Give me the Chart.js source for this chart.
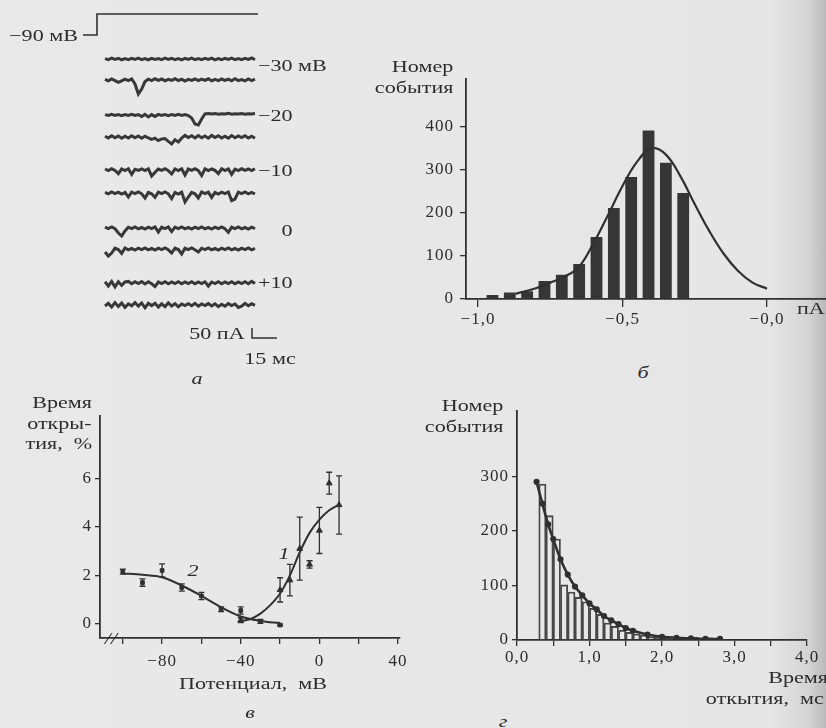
<!DOCTYPE html>
<html lang="ru">
<head>
<meta charset="utf-8">
<title>Одиночные каналы</title>
<script src="https://cdn.jsdelivr.net/npm/chart.js@4.4.1/dist/chart.umd.min.js"></script>
<style>
  html, body { margin: 0; padding: 0; }
  #page {
    position: relative; width: 826px; height: 728px; overflow: hidden;
    background: linear-gradient(to right, #e9e9e9 0px, #e6e6e6 770px, #d4d4d4 808px, #bababa 826px);
    font-family: "Liberation Serif", "DejaVu Serif", serif; color: #2c2c2c;
  }
  #page canvas { position: absolute; }
  .lbl { position: absolute; white-space: pre; font-size: 17px; line-height: 1; }
  .it { font-style: italic; }
</style>
</head>
<body>
<div id="page">
  <canvas id="chartA"></canvas>
  <canvas id="chartB"></canvas>
  <canvas id="chartV"></canvas>
  <canvas id="chartG"></canvas>
</div>
<script>
// ---------- а: single channel current traces (pA around each baseline, 2 ms per sample)
const sampleMs = 2;
const traceM30a = [2,-3,4,-2,3,-4,2,-3,3,-2, 4,-3,2,-4,3,-2,2,-3,4,-2, 3,-3,2,-4,3,-2,4,-3,2,-3, 3,-2,4,-4,2,-3,3,-2,4,-3, 2,-3,3,-2,5,-3];
const traceM30b = [3,-4,5,-3,-12,-4,4,-3,5,-20, -70,-45,-8,4,-3,6,-2,5,-4,3, -2,6,-3,4,-5,3,-2,5,-3,4, -2,6,-4,3,-3,5,-2,4,-4,6, -3,2,-4,5,-3,4];
const traceM20a = [2,-2,3,-2,2,-3,2,-2,3,-2, 2,-8,3,-10,2,-8,3,-2,2,-3, 2,-2,3,-2,2,-3,-15,-45,-50,-20, 6,8,5,7,4,6,5,8,4,6, 5,7,4,6,5,7];
const traceM20b = [4,-5,6,-4,5,-6,4,-5,6,-4, 5,-6,4,-5,-12,-6,-18,-10,-8,-22, -35,-14,-25,-6,8,-3,6,-5,7,-4, 5,-6,8,-3,6,-5,4,-6,7,-4, 5,-3,6,-5,4,-6];
const traceM10a = [5,-3,6,-2,-18,5,-3,6,-22,4, -2,5,-3,6,-30,-12,5,-2,6,-3, -20,5,-3,6,-25,5,-2,6,-3,-28, 6,-3,5,-2,-18,6,-3,5,-22,4, -3,6,-2,5,-3,6];
const traceM10b = [3,-4,5,-3,4,-5,3,-20,4,-3, 5,-4,-25,3,-4,-22,4,-3,5,-4, -28,3,-5,4,-45,-20,3,-4,-25,5, -3,4,-22,3,-5,4,-3,5,-38,-30, 4,-3,5,-4,3,-5];
const trace0a   = [4,-3,5,-3,-25,-40,-15,4,-3,5, -4,3,-5,4,-3,5,-20,4,-3,5, -18,4,-3,5,-4,3,-5,4,-3,5, -4,3,-5,4,-3,5,-4,-22,4,-3, 5,-4,3,-5,4,-3];
const trace0b   = [-15,-35,-20,4,-3,-22,5,-4,3,-5, 4,-3,5,-4,3,-5,4,-3,5,-4, -20,4,-3,-25,4,-3,5,-4,-15,4, -3,5,-4,3,-5,4,-3,5,-4,3, -5,4,-3,5,-4,3];
const traceP10a = [6,-15,8,-20,6,-12,5,8,-4,6, -3,7,-5,6,-4,-18,5,-3,6,-4, 5,-3,6,-4,5,-3,6,-4,5,-3, 6,-15,5,-3,6,-4,5,-3,6,-4, 5,-3,6,-4,8,-3];
const traceP10b = [-5,8,-10,12,-8,10,-12,6,-4,12, -6,10,-14,8,-3,9,-10,6,-8,11, -5,7,-9,5,-3,6,-4,8,-6,5, -3,7,-5,6,-8,4,-6,7,-3,5, -12,-6,8,-4,6,-2];
const tracesA = [traceM30a, traceM30b, traceM20a, traceM20b, traceM10a, traceM10b, trace0a, trace0b, traceP10a, traceP10b];
const traceLabels = ['−30 мВ', '−20', '−10', '0', '+10'];
const protocolMs = [-8.4, 0, 0, 96.6];      // relative to the step
const protocolMv = [-90, -90, -30, -30];
const scaleBarPA = 50;
const scaleBarMs = 15;

// ---------- б: amplitude histogram
const ampBins   = [-0.95, -0.89, -0.83, -0.77, -0.71, -0.65, -0.59, -0.53, -0.47, -0.41, -0.35, -0.29];
const ampCounts = [9, 15, 18, 42, 56, 81, 144, 211, 283, 391, 316, 246];
const ampFitX = [-0.87, -0.80, -0.75, -0.70, -0.65, -0.60, -0.55, -0.50, -0.45, -0.40, -0.35, -0.30, -0.25, -0.20, -0.15, -0.10, -0.05, 0.0];
const ampFitY = [12, 25, 38, 52, 75, 130, 195, 262, 318, 350, 335, 285, 220, 158, 105, 65, 38, 24];
const ampTicks = [-1, -0.5, 0];
const ampTickLabels = ['−1,0', '−0,5', '−0,0'];
const countTicksB = [0, 100, 200, 300, 400];

// ---------- в: open time vs potential
const potTicks = [-100, -80, -60, -40, -20, 0, 20, 40];
const potTickLabels = ['', '−80', '', '−40', '', '0', '', '40'];
const openTicks = [0, 2, 4, 6];
const fit2Mv  = [-100, -90, -80, -70, -60, -50, -40, -30, -20];
const fit2Pct = [2.08, 2.02, 1.92, 1.58, 1.15, 0.68, 0.3, 0.12, 0.03];
const fit1Mv  = [-40, -35, -30, -25, -20, -15, -10, -5, 0, 5, 10];
const fit1Pct = [0.12, 0.2, 0.42, 0.77, 1.25, 2.0, 2.95, 3.75, 4.3, 4.68, 4.92];
const pts2Mv  = [-100, -90, -80, -70, -60, -50, -40, -30, -20];
const pts2Pct = [2.15, 1.7, 2.2, 1.5, 1.15, 0.6, 0.55, 0.1, -0.05];
const pts2Err = [0.1, 0.15, 0.27, 0.15, 0.15, 0.1, 0.15, 0.08, 0.04];
const pts1Mv  = [-40, -20, -15, -10, -5, 0, 5, 10];
const pts1Pct = [0.15, 1.4, 1.8, 3.1, 2.45, 3.85, 5.8, 4.9];
const pts1Err = [0.1, 0.5, 0.65, 1.3, 0.15, 0.95, 0.45, 1.2];

// ---------- г: open time histogram
const durBins   = [0.35, 0.45, 0.55, 0.65, 0.75, 0.85, 0.95, 1.05, 1.15, 1.25, 1.35, 1.45, 1.55, 1.65, 1.75, 1.85, 1.95, 2.05, 2.15, 2.25, 2.35, 2.45, 2.55, 2.65, 2.75];
const durCounts = [286, 228, 185, 101, 88, 78, 70, 58, 47, 31, 25, 18, 14, 11, 9, 6, 5, 4, 6, 5, 4, 5, 3, 4, 2];
const durFitMs     = [0.27, 0.35, 0.43, 0.5, 0.6, 0.7, 0.8, 0.9, 1.0, 1.1, 1.2, 1.3, 1.4, 1.5, 1.6, 1.8, 2.0, 2.2, 2.4, 2.6, 2.8];
const durFitCounts = [290, 250, 212, 185, 148, 120, 98, 82, 67, 56, 44, 36, 29, 22, 17, 10, 6, 4, 3, 2, 2];
const durTicks = [0, 0.5, 1, 1.5, 2, 2.5, 3, 3.5, 4];
const durTickLabels = ['0,0', '', '1,0', '', '2,0', '', '3,0', '', '4,0'];
const countTicksG = [0, 100, 200, 300];

// ---------- shared look
const ink = '#303030';
const serif = "'Liberation Serif', 'DejaVu Serif', serif";
Chart.defaults.animation = false;
Chart.defaults.responsive = false;
Chart.defaults.devicePixelRatio = 1;
Chart.defaults.plugins.legend.display = false;
Chart.defaults.plugins.tooltip.enabled = false;

const pts = (xs, ys) => xs.map((x, i) => ({ x: x, y: ys[i] }));

// slightly spread, scan-like tick lettering
const wideText = { id: 'wideText', beforeDraw(chart) { chart.ctx.letterSpacing = '1px'; } };

// vertical error bars for datasets carrying an `errors` array
const errorBars = {
  id: 'errorBars',
  afterDatasetsDraw(chart) {
    const { ctx, scales } = chart;
    chart.data.datasets.forEach(ds => {
      if (!ds.errors) return;
      ctx.save();
      ctx.strokeStyle = ink;
      ctx.lineWidth = 1.3;
      ds.data.forEach((p, i) => {
        const px = scales.x.getPixelForValue(p.x);
        const top = scales.y.getPixelForValue(p.y + ds.errors[i]);
        const bot = scales.y.getPixelForValue(p.y - ds.errors[i]);
        ctx.beginPath();
        ctx.moveTo(px, top); ctx.lineTo(px, bot);
        ctx.moveTo(px - 3, top); ctx.lineTo(px + 3, top);
        ctx.moveTo(px - 3, bot); ctx.lineTo(px + 3, bot);
        ctx.stroke();
      });
      ctx.restore();
    });
  }
};

function axis(o) {
  return {
    type: 'linear', position: o.position, min: o.min, max: o.max, offset: false,
    afterFit: s => { if (o.position === 'left') s.width = o.size; else s.height = o.size; },
    afterBuildTicks: s => { s.ticks = o.ticks.map(v => ({ value: v })); },
    ticks: {
      autoSkip: false, maxRotation: 0, padding: o.padding, color: '#2c2c2c',
      font: { family: serif, size: 17 },
      callback: (v, i) => (o.labels ? o.labels[i] : String(v))
    },
    grid: { drawOnChartArea: false, drawTicks: true, tickLength: o.tickLength, color: ink, lineWidth: 1.3, offset: false },
    border: { display: true, color: ink, width: 1.8 }
  };
}

function place(id, left, top, width, height) {
  const c = document.getElementById(id);
  c.width = width; c.height = height;
  c.style.left = left + 'px'; c.style.top = top + 'px';
  return c;
}

// ---------- а
const pxMs = 0.6, pxPA = 5;                    // 15 ms = 25 px, 50 pA = 10 px
const traceStartMs = 63;
const traceRowsPx = [59, 80, 115, 137, 170, 193, 228, 249, 283, 305];
const stepAtMs = 58.2;
const scaleBarCorner = { ms: 151.2, pA: -1690 };
const traceSets = tracesA.map((tr, i) => ({
  data: tr.map((v, k) => ({ x: traceStartMs + k * sampleMs, y: -traceRowsPx[i] * pxPA + v })),
  borderColor: '#383838', borderWidth: 3, pointRadius: 0, tension: 0
}));
new Chart(place('chartA', 0, 0, 340, 400), {
  type: 'line',
  data: { datasets: traceSets.concat([
    { data: pts(protocolMs.map(t => t + stepAtMs), protocolMv), yAxisID: 'yV',
      borderColor: ink, borderWidth: 1.6, pointRadius: 0, tension: 0 },
    { data: [
        { x: scaleBarCorner.ms, y: scaleBarCorner.pA + scaleBarPA },
        { x: scaleBarCorner.ms, y: scaleBarCorner.pA },
        { x: scaleBarCorner.ms + scaleBarMs, y: scaleBarCorner.pA }],
      borderColor: ink, borderWidth: 1.5, pointRadius: 0, tension: 0 }
  ]) },
  options: {
    layout: { padding: 0 },
    scales: {
      x: { type: 'linear', display: false, min: 0, max: 340 * pxMs },
      y: { type: 'linear', display: false, min: -400 * pxPA, max: 0 },
      yV: { type: 'linear', display: false, min: 10 - 400 / 0.35, max: 10 }
    }
  }
});

// ---------- б
new Chart(place('chartB', 360, 63, 466, 276), {
  type: 'bar',
  data: { datasets: [
    { type: 'line', data: pts(ampFitX, ampFitY), borderColor: ink, borderWidth: 2.2,
      pointRadius: 0, tension: 0.4, order: 0 },
    { type: 'bar', data: pts(ampBins, ampCounts), backgroundColor: '#363636',
      barPercentage: 0.68, categoryPercentage: 1, order: 1 }
  ] },
  options: {
    layout: { padding: 0 },
    scales: {
      x: axis({ position: 'bottom', min: -1.0415, max: 0.204, size: 40, ticks: ampTicks,
                labels: ampTickLabels, tickLength: 8, padding: 2 }),
      y: axis({ position: 'left', min: 0, max: 510, size: 106, ticks: countTicksB,
                tickLength: 6, padding: 6 })
    }
  },
  plugins: [wideText]
});

// ---------- в
new Chart(place('chartV', 40, 403, 380, 271), {
  type: 'line',
  data: { datasets: [
    { data: pts(fit2Mv, fit2Pct), borderColor: ink, borderWidth: 2, pointRadius: 0,
      cubicInterpolationMode: 'monotone' },
    { data: pts(fit1Mv, fit1Pct), borderColor: ink, borderWidth: 2, pointRadius: 0,
      cubicInterpolationMode: 'monotone' },
    { data: pts(pts2Mv, pts2Pct), errors: pts2Err, showLine: false, pointStyle: 'rect',
      pointRadius: 2.6, backgroundColor: ink, borderColor: ink },
    { data: pts(pts1Mv, pts1Pct), errors: pts1Err, showLine: false, pointStyle: 'triangle',
      pointRadius: 3.4, backgroundColor: ink, borderColor: ink }
  ] },
  options: {
    layout: { padding: { right: 20 } },
    scales: {
      x: axis({ position: 'bottom', min: -111.6, max: 41, size: 36, ticks: potTicks,
                labels: potTickLabels, tickLength: 6, padding: 7 }),
      y: axis({ position: 'left', min: -0.584, max: 8.56, size: 60, ticks: openTicks,
                tickLength: 5, padding: 3 })
    }
  },
  plugins: [wideText, errorBars]
});

// ---------- г
new Chart(place('chartG', 467, 398, 359, 277), {
  type: 'bar',
  data: { datasets: [
    { type: 'line', data: pts(durFitMs, durFitCounts), borderColor: ink, borderWidth: 2.6,
      pointRadius: 1.8, backgroundColor: ink, tension: 0.3, order: 0 },
    { type: 'bar', data: pts(durBins, durCounts), backgroundColor: 'rgba(0,0,0,0)',
      borderColor: '#484848', borderWidth: 1.2, barPercentage: 1, categoryPercentage: 1, order: 1 }
  ] },
  options: {
    layout: { padding: { right: 19 } },
    scales: {
      x: axis({ position: 'bottom', min: 0, max: 4, size: 35, ticks: durTicks,
                labels: durTickLabels, tickLength: 6, padding: 1 }),
      y: axis({ position: 'left', min: 0, max: 419.4, size: 50, ticks: countTicksG,
                tickLength: 5, padding: 3 })
    }
  },
  plugins: [wideText]
});

// ---------- text
const texts = [
  // а
  ['−90 мВ', 78, 35, 'right'],
  [traceLabels[0], 258, 65, 'left'],
  [traceLabels[1], 258, 115, 'left'],
  [traceLabels[2], 258, 170, 'left'],
  [traceLabels[3], 287, 230, 'center'],
  [traceLabels[4], 258, 282, 'left'],
  ['50 пА', 245, 333, 'right'],
  ['15 мс', 270, 358, 'center'],
  ['а', 197, 378, 'center', 'it'],
  // б
  ['Номер', 453, 66, 'right'],
  ['события', 453, 87, 'right'],
  ['пА', 797, 308, 'left'],
  ['б', 643, 372, 'center', 'it'],
  // в
  ['Время', 92, 402, 'right'],
  ['откры-', 92, 423, 'right'],
  ['тия,  %', 92, 443, 'right'],
  ['Потенциал,  мВ', 253, 683, 'center'],
  ['в', 250, 712, 'center', 'it'],
  ['1', 284, 553, 'center', 'it'],
  ['2', 193, 570, 'center', 'it'],
  ['//', 111, 638, 'center', 'it'],
  // г
  ['Номер', 503, 405, 'right'],
  ['события', 503, 426, 'right'],
  ['Время', 828, 677, 'right'],
  ['откытия,  мс', 824, 698, 'right'],
  ['г', 503, 721, 'center', 'it']
];
const page = document.getElementById('page');
texts.forEach(([s, x, y, align, cls]) => {
  const d = document.createElement('div');
  d.className = 'lbl' + (cls ? ' ' + cls : '');
  d.textContent = s;
  d.style.top = y + 'px';
  if (align === 'right') {
    d.style.right = (826 - x) + 'px';
    d.style.transformOrigin = 'right center';
    d.style.transform = 'translateY(-50%) scaleX(1.3)';
  } else if (align === 'left') {
    d.style.left = x + 'px';
    d.style.transformOrigin = 'left center';
    d.style.transform = 'translateY(-50%) scaleX(1.3)';
  } else {
    d.style.left = x + 'px';
    d.style.transform = 'translate(-50%, -50%) scaleX(1.3)';
  }
  page.appendChild(d);
});
</script>
</body>
</html>
